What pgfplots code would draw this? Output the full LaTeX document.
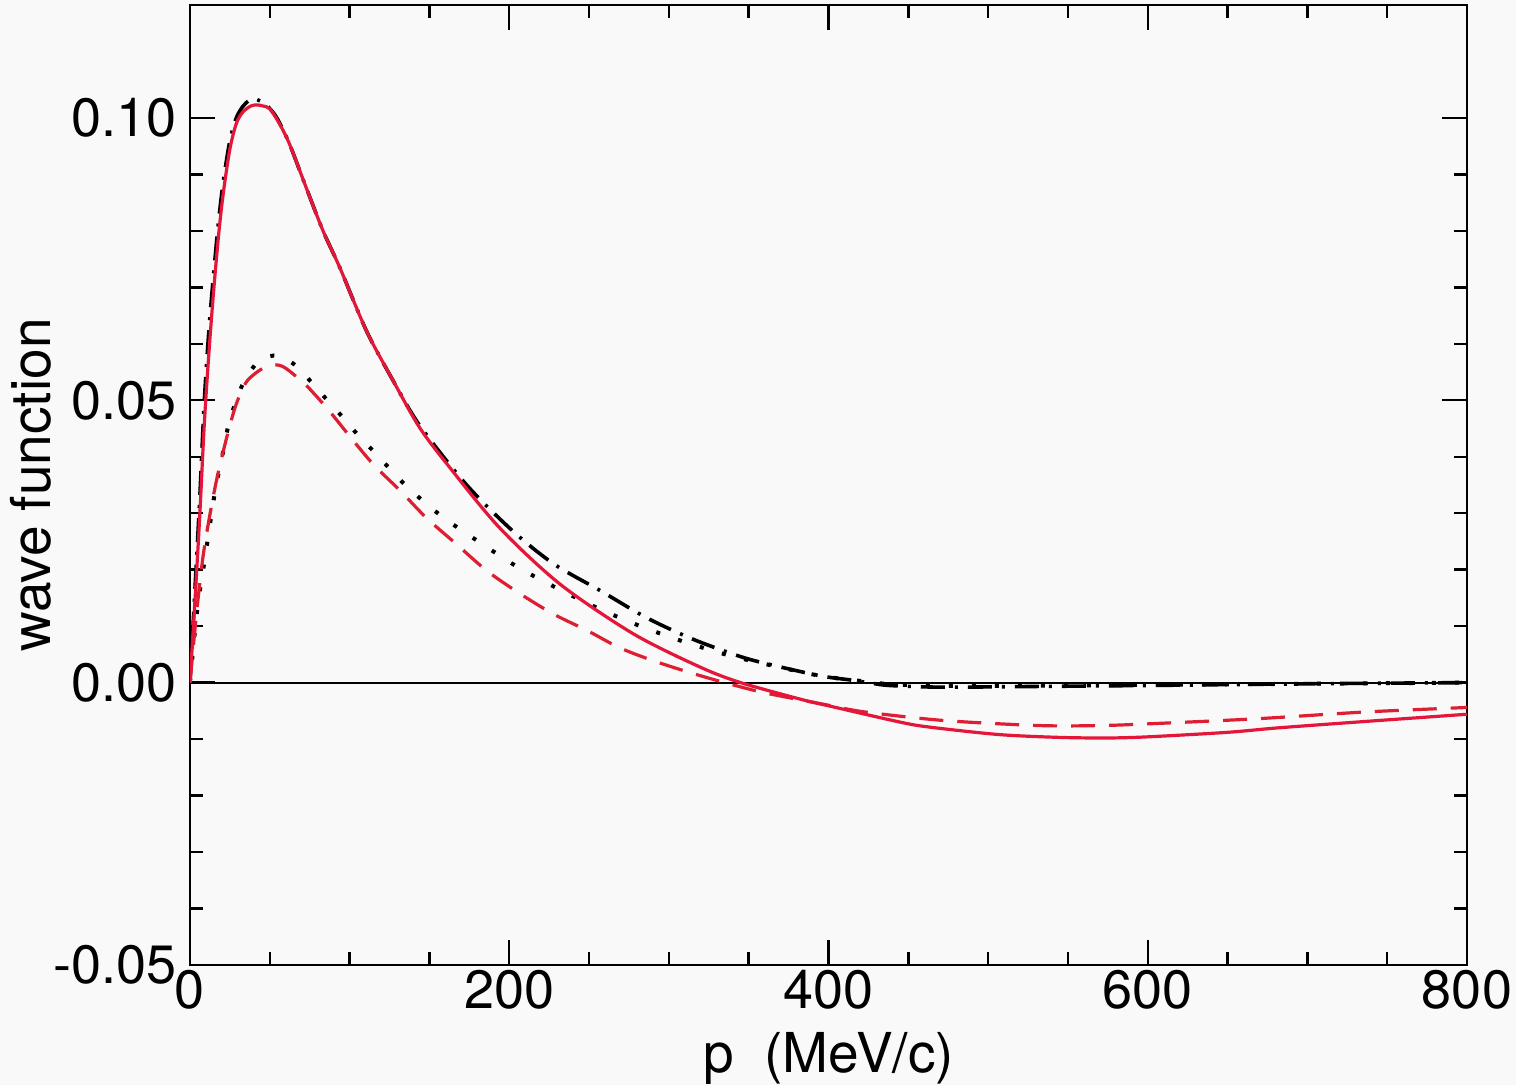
\documentclass[border=0pt]{standalone}
\usepackage{pgfplots}
\pgfplotsset{compat=1.18}
\usepackage{fontspec}
\setmainfont{TeX Gyre Heros}
\definecolor{bg}{RGB}{249,249,249}
\definecolor{cred}{RGB}{228,22,58}
\definecolor{dred}{RGB}{222,30,50}
\begin{document}
\begin{tikzpicture}
\fill[bg] (0,0) rectangle (758pt,542.5pt);
\useasboundingbox (0,0) rectangle (758pt,542.5pt);
\begin{axis}[
  at={(95pt,60pt)}, anchor=south west,
  scale only axis, width=638.5pt, height=480pt,
  xmin=0, xmax=800, ymin=-0.05, ymax=0.12,
  xtick={0,200,400,600,800}, xticklabels={0,200,400,600,800},
  ytick={-0.05,0,0.05,0.10}, yticklabels={-0.05,0.00,0.05,0.10},
  minor x tick num=3, minor y tick num=4,
  major tick length=12.5pt, minor tick length=6.5pt,
  axis line style={line width=1.25pt},
  every tick/.style={black, line width=1.2pt},
  tick label style={font=\fontsize{27}{32}\selectfont},
  yticklabel style={xshift=-3pt},
  xticklabel style={yshift=1pt},
  xlabel={p\ \ (MeV/c)}, ylabel={wave function},
  label style={font=\fontsize{27.5}{33}\selectfont},
  xlabel style={at={(axis description cs:0.5,-0.1115)}, anchor=base},
  ylabel style={at={(axis description cs:-0.1245,0.5)}, anchor=center},
  clip=true,
]
\addplot[black, line width=1pt] coordinates {(0,0) (800,0)};
% black dash-dot (upper)
\addplot[black, line width=1.8pt, smooth, dash pattern=on 12pt off 5pt on 1.5pt off 5pt] coordinates {
(0,0) (3,0.016) (6,0.032) (9,0.050) (12,0.063) (15,0.073) (18,0.082) (21,0.089)
(25,0.096) (29,0.1000) (33,0.1020) (37,0.1031) (40,0.1034) (44,0.1030) (48,0.1022)
(52,0.1010) (56,0.0992) (62.6,0.0952) (73,0.0875) (83.5,0.0799) (94,0.0734)
(110.7,0.0622) (127.4,0.0534) (144,0.0455) (173,0.0351) (202,0.0269) (228,0.0210)
(257,0.0163) (286,0.0115) (315,0.0077) (345,0.0046) (365,0.0031) (395,0.0012)
(413,0.0005) (425,0.0) (438,-0.0005) (470,-0.0008) (520,-0.0007) (600,-0.0005)
(700,-0.0002) (800,0.0)};
% black dotted (lower)
\addplot[black, line width=2pt, smooth, dash pattern=on 2pt off 9.5pt] coordinates {
(0,0) (2,0.006) (5,0.014) (9.4,0.0221) (15.7,0.0339) (19.8,0.0395) (24,0.0455)
(29,0.0500) (34.5,0.0537) (42.8,0.0569) (50,0.0578) (55,0.0579) (61,0.0572)
(68,0.0557) (77.3,0.0528) (86.7,0.0498) (96,0.0469) (105.4,0.0438) (115.9,0.0407)
(135.6,0.0348) (157.5,0.0295) (181.7,0.0248) (205.7,0.0204) (230.8,0.0166)
(256.9,0.0130) (284,0.0098) (311,0.0071) (338,0.0048) (365,0.0030) (395,0.0012)
(420,0.0003) (440,-0.0003) (480,-0.0006) (550,-0.0005) (650,-0.0003) (800,0.0)};
% red dashed (lower)
\addplot[dred, line width=1.6pt, smooth, dash pattern=on 12pt off 7pt] coordinates {
(0,0) (4,0.012) (8,0.022) (12,0.029) (16,0.035) (20,0.040) (24,0.0445) (28,0.0485)
(32,0.0515) (36,0.0535) (42,0.0550) (48,0.0560) (53,0.0563) (58,0.0560) (64,0.0548)
(74,0.0523) (87,0.0482) (101,0.0433) (115,0.0386) (132,0.0339) (148,0.0292)
(167,0.0245) (186,0.0198) (207,0.0157) (228,0.0121) (249,0.0092) (269,0.0062)
(290,0.0039) (313,0.0018) (335,0.0) (360,-0.0018) (400,-0.0040) (423,-0.0052)
(472,-0.0067) (532,-0.0076) (570,-0.0076) (600,-0.0073) (668,-0.0064)
(736,-0.0052) (800,-0.0044)};
% red solid (upper)
\addplot[cred, line width=1.6pt, smooth] coordinates {
(0,0) (3,0.014) (6,0.029) (9,0.046) (12,0.059) (15,0.070) (18,0.0795) (21,0.087)
(25,0.0945) (29,0.0990) (33,0.1010) (38,0.1021) (42,0.1023) (46,0.1021) (50,0.1016)
(56,0.0990) (62.6,0.0952) (73,0.0875) (83.5,0.0799) (94,0.0734) (110.7,0.0622)
(127.4,0.0534) (144,0.0451) (163,0.0380) (194,0.0274) (232,0.0174) (278,0.0086)
(320,0.0027) (345,0.0) (382,-0.0029) (400,-0.0041) (445,-0.0070) (464,-0.0079)
(507,-0.0092) (545,-0.0097) (575,-0.0098) (600,-0.0096) (650,-0.0088)
(682,-0.0080) (740,-0.0068) (800,-0.0056)};
\end{axis}
\end{tikzpicture}
\end{document}
